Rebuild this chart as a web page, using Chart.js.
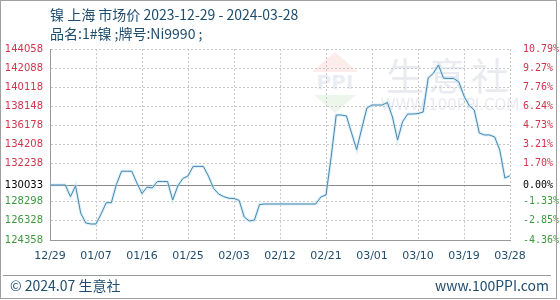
<!DOCTYPE html>
<html>
<head>
<meta charset="utf-8">
<script src="https://cdn.jsdelivr.net/npm/chart.js@4.4.1/dist/chart.umd.min.js"></script>
<style>
  html, body { margin: 0; padding: 0; background: #fff; }
  #wrap { width: 560px; height: 300px; position: relative; }
</style>
</head>
<body>
<div id="wrap"><canvas id="priceChart" width="560" height="300"></canvas></div>
<script>
// base price = first day, the % axis is relative to it
const basePrice = 130033;
const startDate = new Date(2023, 11, 29);
const dayCount = 91;

// y ticks (left)
const yTicks = [124358, 126328, 128298, 130033, 132238, 134208, 136178, 138148, 140118, 142088, 144058];
const xTickEvery = 9;

// daily price, 12/29 .. 03/28
const prices = [
  130033, 130033, 130033, 130033, 128824, 129950, 127140, 126110, 126010, 126010,
  127040, 128210, 128200, 130100, 131450, 131450, 131450, 130240, 129150, 129820,
  129720, 130390, 130390, 130390, 128480, 129930, 130700, 130960, 131950, 131950,
  131950, 130950, 129690, 129100, 128830, 128660, 128640, 128450, 126730, 126320,
  126420, 128020, 128070, 128070, 128070, 128070, 128070, 128070, 128070, 128070,
  128070, 128070, 128070, 128800, 129000, 132900, 137250, 137250, 137150, 135400,
  133690, 135870, 137970, 138280, 138280, 138280, 138540, 137050, 134670, 136580,
  137350, 137350, 137400, 137560, 141070, 141550, 142410, 141040, 141020, 141020,
  140650, 139210, 138230, 137770, 135390, 135190, 135190, 134980, 133640, 130750,
  130990
];

const labels = [];
for (let i = 0; i < dayCount; i++) {
  const d = new Date(startDate.getTime() + i * 86400000);
  const mm = String(d.getMonth() + 1).padStart(2, '0');
  const dd = String(d.getDate()).padStart(2, '0');
  labels.push(mm + '/' + dd);
}

const RED = '#d2344c';
const GREEN = '#3f9a3f';
const TXT = '#1f4d6e';

function tickColor(ctx) {
  const v = ctx.tick.value;
  if (Math.abs(v - basePrice) < 1) return '#000';
  return v > basePrice ? RED : GREEN;
}

// titles, frame, watermark, base line
const decorPlugin = {
  id: 'decor',
  beforeDraw(chart) {
    const c = chart.ctx;
    c.save();
    c.fillStyle = '#fff';
    c.fillRect(0, 0, chart.width, chart.height);

    // watermark
    c.globalAlpha = 0.22;
    c.fillStyle = '#f1a8a0';
    c.beginPath();
    c.moveTo(312, 72); c.lineTo(335, 52); c.lineTo(358, 72); c.closePath(); c.fill();
    c.fillStyle = '#9fb2cc';
    c.font = 'bold 20px "DejaVu Sans"';
    c.textAlign = 'center';
    c.textBaseline = 'middle';
    c.fillText('PPI', 335, 84);
    c.fillStyle = '#a7d8a0';
    c.beginPath();
    c.moveTo(314, 95); c.lineTo(356, 95); c.lineTo(335, 113); c.closePath(); c.fill();
    c.globalAlpha = 1;
    c.fillStyle = '#e9ebf0';
    c.font = '38px "Noto Sans CJK SC"';
    c.fillText('生', 405, 76);
    c.fillText('意', 447, 76);
    c.fillText('社', 490, 76);
    c.font = '15px "DejaVu Sans"';
    c.fillText('WWW.100PPI.COM', 450, 106);
    c.restore();
  },
  beforeDatasetsDraw(chart) {
    const c = chart.ctx;
    const area = chart.chartArea;
    const y = Math.round(chart.scales.y.getPixelForValue(basePrice)) + 0.5;
    c.save();
    c.strokeStyle = '#8a8a8a';
    c.lineWidth = 1;
    c.beginPath();
    c.moveTo(area.left, y); c.lineTo(area.right, y);
    c.stroke();
    c.restore();
  },
  afterDraw(chart) {
    const c = chart.ctx;
    c.save();
    c.fillStyle = TXT;
    c.textBaseline = 'middle';
    c.textAlign = 'left';
    c.font = '14px "Noto Sans CJK SC"';
    c.fillText('镍 上海 市场价 2023-12-29 - 2024-03-28', 50, 15);
    c.fillText('品名:1#镍 ;牌号:Ni9990 ;', 50, 34);
    c.fillText('© 2024.07 生意社', 10, 286);
    c.textAlign = 'right';
    c.fillText('www.100PPI.com', 549, 286);

    c.strokeStyle = '#9a9a9a';
    c.lineWidth = 1;
    c.beginPath();
    c.moveTo(3, 275.5); c.lineTo(551, 275.5);
    c.stroke();
    c.strokeStyle = '#a0a0a0';
    c.strokeRect(0.5, 0.5, 556, 298);
    c.restore();
  }
};

const ctx = document.getElementById('priceChart').getContext('2d');

const config = {
  type: 'line',
  data: {
    labels: labels,
    datasets: [
      {
        label: 'price',
        data: prices,
        borderColor: '#4a86ab',
        borderWidth: 1,
        pointRadius: 0,
        tension: 0,
        fill: false,
        order: 1
      },
      {
        label: 'glow',
        data: prices,
        borderColor: 'rgba(185,226,246,0.55)',
        borderWidth: 3,
        pointRadius: 0,
        tension: 0,
        fill: false,
        order: 2
      }
    ]
  },
  options: {
    responsive: false,
    animation: false,
    layout: { padding: { top: 49, left: 0, right: 0, bottom: 0 } },
    plugins: {
      legend: { display: false },
      tooltip: { enabled: false }
    },
    scales: {
      x: {
        type: 'category',
        offset: false,
        afterBuildTicks(scale) {
          scale.ticks = scale.ticks.filter(t => t.value % xTickEvery === 0);
        },
        afterFit(scale) { scale.height = 60; },
        ticks: {
          autoSkip: false,
          maxRotation: 0,
          padding: 10,
          color: TXT,
          font: { family: 'DejaVu Sans', size: 11 },
          callback(val) { return labels[val]; }
        },
        grid: { color: '#c8c8c8', drawTicks: false },
        border: { color: '#999', dash: [2, 2] }
      },
      y: {
        position: 'left',
        min: yTicks[0],
        max: yTicks[yTicks.length - 1],
        afterBuildTicks(scale) {
          scale.ticks = yTicks.map(v => ({ value: v }));
        },
        afterFit(scale) { scale.width = 50; },
        ticks: {
          padding: 7,
          color: tickColor,
          font: { family: 'DejaVu Sans', size: 10 },
          callback(v) { return String(v); }
        },
        grid: {
          color(ctx) {
            return Math.abs(ctx.tick.value - basePrice) < 1 ? 'rgba(0,0,0,0)' : '#c8c8c8';
          },
          drawTicks: false
        },
        border: { color: '#999', dash: [2, 2] }
      },
      y2: {
        position: 'right',
        min: yTicks[0],
        max: yTicks[yTicks.length - 1],
        afterBuildTicks(scale) {
          scale.ticks = yTicks.map(v => ({ value: v }));
        },
        afterFit(scale) { scale.width = 50; },
        ticks: {
          padding: 5,
          color: tickColor,
          font: { family: 'DejaVu Sans Mono', size: 10 },
          callback(v) { return ((v - basePrice) / basePrice * 100).toFixed(2) + '%'; }
        },
        grid: { display: false },
        border: { display: false }
      }
    }
  },
  plugins: [decorPlugin]
};

const priceChart = new Chart(ctx, config);
</script>
</body>
</html>
